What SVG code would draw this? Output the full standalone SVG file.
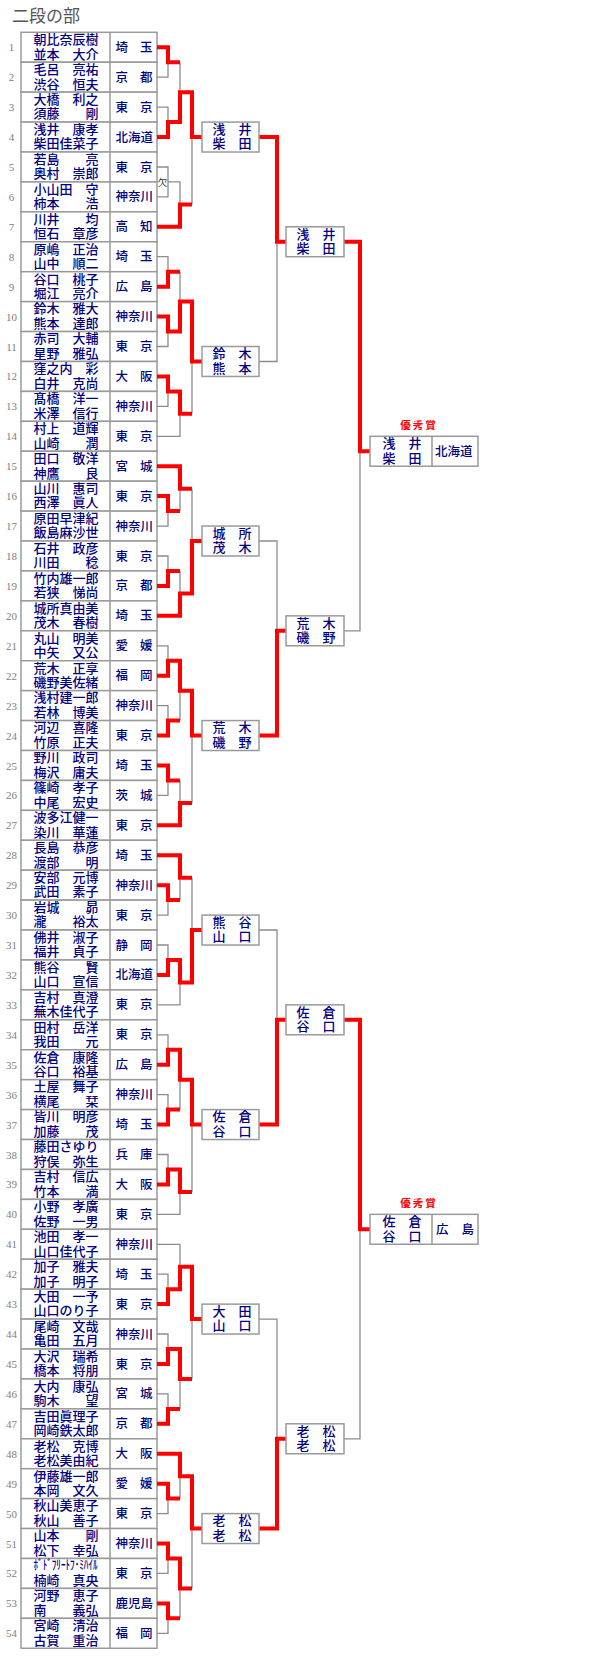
<svg xmlns="http://www.w3.org/2000/svg" width="600" height="1660" viewBox="0 0 600 1660">
<style>
text{font-family:"Noto Sans CJK JP","Noto Sans CJK SC",sans-serif}
.c{fill:#fff;stroke:#9a9a9a;stroke-width:1.5}
.d{stroke:#9a9a9a;stroke-width:1.5}
.no{font-family:"Liberation Serif",serif;font-size:11px;fill:#808080;text-anchor:middle}
.nm{font-size:13px;fill:#000080;font-weight:500}
.pf{font-size:12.5px;fill:#000080;font-weight:500}
.pe{text-anchor:end}
.mid{text-anchor:middle}
.g{fill:none;stroke:#8c8c8c;stroke-width:1.3}
.r{fill:none;stroke:#ff0000;stroke-width:4}
.aw{font-size:10.5px;fill:#ff0000;font-weight:bold;letter-spacing:2px;text-anchor:middle}
.ab{font-size:9.5px;fill:#333;text-anchor:middle}
</style>
<rect width="600" height="1660" fill="#fff"/>
<text x="12" y="21.5" font-size="17" fill="#555">二段の部</text>

<g id="entries">
<g id="e1" transform="translate(0,32.3)"><rect class="c" x="21" width="136" height="29.93"/><line class="d" x1="110" y1="0" x2="110" y2="29.93"/><text class="no" x="11.5" y="19">1</text><text class="nm" x="33.5" y="11.8">朝比奈辰樹</text><text class="nm" x="33.5" y="26.3">並本　大介</text><text class="pf" x="115.5" y="19.5">埼</text><text class="pf pe" x="152.5" y="19.5">玉</text></g>
<g id="e2" transform="translate(0,62.23)"><rect class="c" x="21" width="136" height="29.93"/><line class="d" x1="110" y1="0" x2="110" y2="29.93"/><text class="no" x="11.5" y="19">2</text><text class="nm" x="33.5" y="11.8">毛呂　亮祐</text><text class="nm" x="33.5" y="26.3">渋谷　恒夫</text><text class="pf" x="115.5" y="19.5">京</text><text class="pf pe" x="152.5" y="19.5">都</text></g>
<g id="e3" transform="translate(0,92.15)"><rect class="c" x="21" width="136" height="29.93"/><line class="d" x1="110" y1="0" x2="110" y2="29.93"/><text class="no" x="11.5" y="19">3</text><text class="nm" x="33.5" y="11.8">大橋　利之</text><text class="nm" x="33.5" y="26.3">須藤　　剛</text><text class="pf" x="115.5" y="19.5">東</text><text class="pf pe" x="152.5" y="19.5">京</text></g>
<g id="e4" transform="translate(0,122.08)"><rect class="c" x="21" width="136" height="29.93"/><line class="d" x1="110" y1="0" x2="110" y2="29.93"/><text class="no" x="11.5" y="19">4</text><text class="nm" x="33.5" y="11.8">浅井　康孝</text><text class="nm" x="33.5" y="26.3">柴田佳菜子</text><text class="pf" x="115.5" y="19.5">北海道</text></g>
<g id="e5" transform="translate(0,152)"><rect class="c" x="21" width="136" height="29.93"/><line class="d" x1="110" y1="0" x2="110" y2="29.93"/><text class="no" x="11.5" y="19">5</text><text class="nm" x="33.5" y="11.8">若島　　亮</text><text class="nm" x="33.5" y="26.3">奥村　崇郎</text><text class="pf" x="115.5" y="19.5">東</text><text class="pf pe" x="152.5" y="19.5">京</text></g>
<g id="e6" transform="translate(0,181.93)"><rect class="c" x="21" width="136" height="29.93"/><line class="d" x1="110" y1="0" x2="110" y2="29.93"/><text class="no" x="11.5" y="19">6</text><text class="nm" x="33.5" y="11.8">小山田　守</text><text class="nm" x="33.5" y="26.3">柿本　　浩</text><text class="pf" x="115.5" y="19.5">神奈川</text></g>
<g id="e7" transform="translate(0,211.85)"><rect class="c" x="21" width="136" height="29.93"/><line class="d" x1="110" y1="0" x2="110" y2="29.93"/><text class="no" x="11.5" y="19">7</text><text class="nm" x="33.5" y="11.8">川井　　均</text><text class="nm" x="33.5" y="26.3">恒石　章彦</text><text class="pf" x="115.5" y="19.5">高</text><text class="pf pe" x="152.5" y="19.5">知</text></g>
<g id="e8" transform="translate(0,241.78)"><rect class="c" x="21" width="136" height="29.93"/><line class="d" x1="110" y1="0" x2="110" y2="29.93"/><text class="no" x="11.5" y="19">8</text><text class="nm" x="33.5" y="11.8">原嶋　正治</text><text class="nm" x="33.5" y="26.3">山中　順二</text><text class="pf" x="115.5" y="19.5">埼</text><text class="pf pe" x="152.5" y="19.5">玉</text></g>
<g id="e9" transform="translate(0,271.7)"><rect class="c" x="21" width="136" height="29.93"/><line class="d" x1="110" y1="0" x2="110" y2="29.93"/><text class="no" x="11.5" y="19">9</text><text class="nm" x="33.5" y="11.8">谷口　桃子</text><text class="nm" x="33.5" y="26.3">堀江　亮介</text><text class="pf" x="115.5" y="19.5">広</text><text class="pf pe" x="152.5" y="19.5">島</text></g>
<g id="e10" transform="translate(0,301.63)"><rect class="c" x="21" width="136" height="29.93"/><line class="d" x1="110" y1="0" x2="110" y2="29.93"/><text class="no" x="11.5" y="19">10</text><text class="nm" x="33.5" y="11.8">鈴木　雅大</text><text class="nm" x="33.5" y="26.3">熊本　達郎</text><text class="pf" x="115.5" y="19.5">神奈川</text></g>
<g id="e11" transform="translate(0,331.55)"><rect class="c" x="21" width="136" height="29.93"/><line class="d" x1="110" y1="0" x2="110" y2="29.93"/><text class="no" x="11.5" y="19">11</text><text class="nm" x="33.5" y="11.8">赤司　大輔</text><text class="nm" x="33.5" y="26.3">星野　雅弘</text><text class="pf" x="115.5" y="19.5">東</text><text class="pf pe" x="152.5" y="19.5">京</text></g>
<g id="e12" transform="translate(0,361.48)"><rect class="c" x="21" width="136" height="29.93"/><line class="d" x1="110" y1="0" x2="110" y2="29.93"/><text class="no" x="11.5" y="19">12</text><text class="nm" x="33.5" y="11.8">窪之内　彩</text><text class="nm" x="33.5" y="26.3">白井　克尚</text><text class="pf" x="115.5" y="19.5">大</text><text class="pf pe" x="152.5" y="19.5">阪</text></g>
<g id="e13" transform="translate(0,391.4)"><rect class="c" x="21" width="136" height="29.93"/><line class="d" x1="110" y1="0" x2="110" y2="29.93"/><text class="no" x="11.5" y="19">13</text><text class="nm" x="33.5" y="11.8">髙橋　洋一</text><text class="nm" x="33.5" y="26.3">米澤　信行</text><text class="pf" x="115.5" y="19.5">神奈川</text></g>
<g id="e14" transform="translate(0,421.33)"><rect class="c" x="21" width="136" height="29.93"/><line class="d" x1="110" y1="0" x2="110" y2="29.93"/><text class="no" x="11.5" y="19">14</text><text class="nm" x="33.5" y="11.8">村上　道輝</text><text class="nm" x="33.5" y="26.3">山崎　　潤</text><text class="pf" x="115.5" y="19.5">東</text><text class="pf pe" x="152.5" y="19.5">京</text></g>
<g id="e15" transform="translate(0,451.25)"><rect class="c" x="21" width="136" height="29.93"/><line class="d" x1="110" y1="0" x2="110" y2="29.93"/><text class="no" x="11.5" y="19">15</text><text class="nm" x="33.5" y="11.8">田口　敬洋</text><text class="nm" x="33.5" y="26.3">神鷹　　良</text><text class="pf" x="115.5" y="19.5">宮</text><text class="pf pe" x="152.5" y="19.5">城</text></g>
<g id="e16" transform="translate(0,481.18)"><rect class="c" x="21" width="136" height="29.93"/><line class="d" x1="110" y1="0" x2="110" y2="29.93"/><text class="no" x="11.5" y="19">16</text><text class="nm" x="33.5" y="11.8">山川　惠司</text><text class="nm" x="33.5" y="26.3">西澤　眞人</text><text class="pf" x="115.5" y="19.5">東</text><text class="pf pe" x="152.5" y="19.5">京</text></g>
<g id="e17" transform="translate(0,511.1)"><rect class="c" x="21" width="136" height="29.93"/><line class="d" x1="110" y1="0" x2="110" y2="29.93"/><text class="no" x="11.5" y="19">17</text><text class="nm" x="33.5" y="11.8">原田早津紀</text><text class="nm" x="33.5" y="26.3">飯島麻沙世</text><text class="pf" x="115.5" y="19.5">神奈川</text></g>
<g id="e18" transform="translate(0,541.03)"><rect class="c" x="21" width="136" height="29.93"/><line class="d" x1="110" y1="0" x2="110" y2="29.93"/><text class="no" x="11.5" y="19">18</text><text class="nm" x="33.5" y="11.8">石井　政彦</text><text class="nm" x="33.5" y="26.3">川田　　稔</text><text class="pf" x="115.5" y="19.5">東</text><text class="pf pe" x="152.5" y="19.5">京</text></g>
<g id="e19" transform="translate(0,570.95)"><rect class="c" x="21" width="136" height="29.93"/><line class="d" x1="110" y1="0" x2="110" y2="29.93"/><text class="no" x="11.5" y="19">19</text><text class="nm" x="33.5" y="11.8">竹内雄一郎</text><text class="nm" x="33.5" y="26.3">若狭　悌尚</text><text class="pf" x="115.5" y="19.5">京</text><text class="pf pe" x="152.5" y="19.5">都</text></g>
<g id="e20" transform="translate(0,600.88)"><rect class="c" x="21" width="136" height="29.93"/><line class="d" x1="110" y1="0" x2="110" y2="29.93"/><text class="no" x="11.5" y="19">20</text><text class="nm" x="33.5" y="11.8">城所真由美</text><text class="nm" x="33.5" y="26.3">茂木　春樹</text><text class="pf" x="115.5" y="19.5">埼</text><text class="pf pe" x="152.5" y="19.5">玉</text></g>
<g id="e21" transform="translate(0,630.8)"><rect class="c" x="21" width="136" height="29.93"/><line class="d" x1="110" y1="0" x2="110" y2="29.93"/><text class="no" x="11.5" y="19">21</text><text class="nm" x="33.5" y="11.8">丸山　明美</text><text class="nm" x="33.5" y="26.3">中矢　又公</text><text class="pf" x="115.5" y="19.5">愛</text><text class="pf pe" x="152.5" y="19.5">媛</text></g>
<g id="e22" transform="translate(0,660.73)"><rect class="c" x="21" width="136" height="29.93"/><line class="d" x1="110" y1="0" x2="110" y2="29.93"/><text class="no" x="11.5" y="19">22</text><text class="nm" x="33.5" y="11.8">荒木　正享</text><text class="nm" x="33.5" y="26.3">磯野美佐緒</text><text class="pf" x="115.5" y="19.5">福</text><text class="pf pe" x="152.5" y="19.5">岡</text></g>
<g id="e23" transform="translate(0,690.65)"><rect class="c" x="21" width="136" height="29.93"/><line class="d" x1="110" y1="0" x2="110" y2="29.93"/><text class="no" x="11.5" y="19">23</text><text class="nm" x="33.5" y="11.8">浅村建一郎</text><text class="nm" x="33.5" y="26.3">若林　博美</text><text class="pf" x="115.5" y="19.5">神奈川</text></g>
<g id="e24" transform="translate(0,720.58)"><rect class="c" x="21" width="136" height="29.93"/><line class="d" x1="110" y1="0" x2="110" y2="29.93"/><text class="no" x="11.5" y="19">24</text><text class="nm" x="33.5" y="11.8">河辺　喜隆</text><text class="nm" x="33.5" y="26.3">竹原　正夫</text><text class="pf" x="115.5" y="19.5">東</text><text class="pf pe" x="152.5" y="19.5">京</text></g>
<g id="e25" transform="translate(0,750.5)"><rect class="c" x="21" width="136" height="29.93"/><line class="d" x1="110" y1="0" x2="110" y2="29.93"/><text class="no" x="11.5" y="19">25</text><text class="nm" x="33.5" y="11.8">野川　政司</text><text class="nm" x="33.5" y="26.3">梅沢　庸夫</text><text class="pf" x="115.5" y="19.5">埼</text><text class="pf pe" x="152.5" y="19.5">玉</text></g>
<g id="e26" transform="translate(0,780.43)"><rect class="c" x="21" width="136" height="29.93"/><line class="d" x1="110" y1="0" x2="110" y2="29.93"/><text class="no" x="11.5" y="19">26</text><text class="nm" x="33.5" y="11.8">篠崎　孝子</text><text class="nm" x="33.5" y="26.3">中尾　宏史</text><text class="pf" x="115.5" y="19.5">茨</text><text class="pf pe" x="152.5" y="19.5">城</text></g>
<g id="e27" transform="translate(0,810.35)"><rect class="c" x="21" width="136" height="29.93"/><line class="d" x1="110" y1="0" x2="110" y2="29.93"/><text class="no" x="11.5" y="19">27</text><text class="nm" x="33.5" y="11.8">波多江健一</text><text class="nm" x="33.5" y="26.3">染川　華蓮</text><text class="pf" x="115.5" y="19.5">東</text><text class="pf pe" x="152.5" y="19.5">京</text></g>
<g id="e28" transform="translate(0,840.28)"><rect class="c" x="21" width="136" height="29.93"/><line class="d" x1="110" y1="0" x2="110" y2="29.93"/><text class="no" x="11.5" y="19">28</text><text class="nm" x="33.5" y="11.8">長島　恭彦</text><text class="nm" x="33.5" y="26.3">渡部　　明</text><text class="pf" x="115.5" y="19.5">埼</text><text class="pf pe" x="152.5" y="19.5">玉</text></g>
<g id="e29" transform="translate(0,870.2)"><rect class="c" x="21" width="136" height="29.93"/><line class="d" x1="110" y1="0" x2="110" y2="29.93"/><text class="no" x="11.5" y="19">29</text><text class="nm" x="33.5" y="11.8">安部　元博</text><text class="nm" x="33.5" y="26.3">武田　素子</text><text class="pf" x="115.5" y="19.5">神奈川</text></g>
<g id="e30" transform="translate(0,900.13)"><rect class="c" x="21" width="136" height="29.93"/><line class="d" x1="110" y1="0" x2="110" y2="29.93"/><text class="no" x="11.5" y="19">30</text><text class="nm" x="33.5" y="11.8">岩城　　昴</text><text class="nm" x="33.5" y="26.3">瀧　　裕太</text><text class="pf" x="115.5" y="19.5">東</text><text class="pf pe" x="152.5" y="19.5">京</text></g>
<g id="e31" transform="translate(0,930.05)"><rect class="c" x="21" width="136" height="29.93"/><line class="d" x1="110" y1="0" x2="110" y2="29.93"/><text class="no" x="11.5" y="19">31</text><text class="nm" x="33.5" y="11.8">佛井　淑子</text><text class="nm" x="33.5" y="26.3">福井　貞子</text><text class="pf" x="115.5" y="19.5">静</text><text class="pf pe" x="152.5" y="19.5">岡</text></g>
<g id="e32" transform="translate(0,959.98)"><rect class="c" x="21" width="136" height="29.93"/><line class="d" x1="110" y1="0" x2="110" y2="29.93"/><text class="no" x="11.5" y="19">32</text><text class="nm" x="33.5" y="11.8">熊谷　　賢</text><text class="nm" x="33.5" y="26.3">山口　宣信</text><text class="pf" x="115.5" y="19.5">北海道</text></g>
<g id="e33" transform="translate(0,989.9)"><rect class="c" x="21" width="136" height="29.93"/><line class="d" x1="110" y1="0" x2="110" y2="29.93"/><text class="no" x="11.5" y="19">33</text><text class="nm" x="33.5" y="11.8">吉村　真澄</text><text class="nm" x="33.5" y="26.3">蕪木佳代子</text><text class="pf" x="115.5" y="19.5">東</text><text class="pf pe" x="152.5" y="19.5">京</text></g>
<g id="e34" transform="translate(0,1019.83)"><rect class="c" x="21" width="136" height="29.93"/><line class="d" x1="110" y1="0" x2="110" y2="29.93"/><text class="no" x="11.5" y="19">34</text><text class="nm" x="33.5" y="11.8">田村　岳洋</text><text class="nm" x="33.5" y="26.3">我田　　元</text><text class="pf" x="115.5" y="19.5">東</text><text class="pf pe" x="152.5" y="19.5">京</text></g>
<g id="e35" transform="translate(0,1049.75)"><rect class="c" x="21" width="136" height="29.93"/><line class="d" x1="110" y1="0" x2="110" y2="29.93"/><text class="no" x="11.5" y="19">35</text><text class="nm" x="33.5" y="11.8">佐倉　康隆</text><text class="nm" x="33.5" y="26.3">谷口　裕基</text><text class="pf" x="115.5" y="19.5">広</text><text class="pf pe" x="152.5" y="19.5">島</text></g>
<g id="e36" transform="translate(0,1079.68)"><rect class="c" x="21" width="136" height="29.93"/><line class="d" x1="110" y1="0" x2="110" y2="29.93"/><text class="no" x="11.5" y="19">36</text><text class="nm" x="33.5" y="11.8">土屋　舞子</text><text class="nm" x="33.5" y="26.3">横尾　　栞</text><text class="pf" x="115.5" y="19.5">神奈川</text></g>
<g id="e37" transform="translate(0,1109.6)"><rect class="c" x="21" width="136" height="29.93"/><line class="d" x1="110" y1="0" x2="110" y2="29.93"/><text class="no" x="11.5" y="19">37</text><text class="nm" x="33.5" y="11.8">皆川　明彦</text><text class="nm" x="33.5" y="26.3">加藤　　茂</text><text class="pf" x="115.5" y="19.5">埼</text><text class="pf pe" x="152.5" y="19.5">玉</text></g>
<g id="e38" transform="translate(0,1139.53)"><rect class="c" x="21" width="136" height="29.93"/><line class="d" x1="110" y1="0" x2="110" y2="29.93"/><text class="no" x="11.5" y="19">38</text><text class="nm" x="33.5" y="11.8">藤田さゆり</text><text class="nm" x="33.5" y="26.3">狩俣　弥生</text><text class="pf" x="115.5" y="19.5">兵</text><text class="pf pe" x="152.5" y="19.5">庫</text></g>
<g id="e39" transform="translate(0,1169.45)"><rect class="c" x="21" width="136" height="29.93"/><line class="d" x1="110" y1="0" x2="110" y2="29.93"/><text class="no" x="11.5" y="19">39</text><text class="nm" x="33.5" y="11.8">吉村　信広</text><text class="nm" x="33.5" y="26.3">竹本　　満</text><text class="pf" x="115.5" y="19.5">大</text><text class="pf pe" x="152.5" y="19.5">阪</text></g>
<g id="e40" transform="translate(0,1199.38)"><rect class="c" x="21" width="136" height="29.93"/><line class="d" x1="110" y1="0" x2="110" y2="29.93"/><text class="no" x="11.5" y="19">40</text><text class="nm" x="33.5" y="11.8">小野　孝廣</text><text class="nm" x="33.5" y="26.3">佐野　一男</text><text class="pf" x="115.5" y="19.5">東</text><text class="pf pe" x="152.5" y="19.5">京</text></g>
<g id="e41" transform="translate(0,1229.3)"><rect class="c" x="21" width="136" height="29.93"/><line class="d" x1="110" y1="0" x2="110" y2="29.93"/><text class="no" x="11.5" y="19">41</text><text class="nm" x="33.5" y="11.8">池田　孝一</text><text class="nm" x="33.5" y="26.3">山口佳代子</text><text class="pf" x="115.5" y="19.5">神奈川</text></g>
<g id="e42" transform="translate(0,1259.23)"><rect class="c" x="21" width="136" height="29.93"/><line class="d" x1="110" y1="0" x2="110" y2="29.93"/><text class="no" x="11.5" y="19">42</text><text class="nm" x="33.5" y="11.8">加子　雅夫</text><text class="nm" x="33.5" y="26.3">加子　明子</text><text class="pf" x="115.5" y="19.5">埼</text><text class="pf pe" x="152.5" y="19.5">玉</text></g>
<g id="e43" transform="translate(0,1289.15)"><rect class="c" x="21" width="136" height="29.93"/><line class="d" x1="110" y1="0" x2="110" y2="29.93"/><text class="no" x="11.5" y="19">43</text><text class="nm" x="33.5" y="11.8">大田　一予</text><text class="nm" x="33.5" y="26.3">山口のり子</text><text class="pf" x="115.5" y="19.5">東</text><text class="pf pe" x="152.5" y="19.5">京</text></g>
<g id="e44" transform="translate(0,1319.08)"><rect class="c" x="21" width="136" height="29.93"/><line class="d" x1="110" y1="0" x2="110" y2="29.93"/><text class="no" x="11.5" y="19">44</text><text class="nm" x="33.5" y="11.8">尾崎　文哉</text><text class="nm" x="33.5" y="26.3">亀田　五月</text><text class="pf" x="115.5" y="19.5">神奈川</text></g>
<g id="e45" transform="translate(0,1349)"><rect class="c" x="21" width="136" height="29.93"/><line class="d" x1="110" y1="0" x2="110" y2="29.93"/><text class="no" x="11.5" y="19">45</text><text class="nm" x="33.5" y="11.8">大沢　瑞希</text><text class="nm" x="33.5" y="26.3">橋本　将朋</text><text class="pf" x="115.5" y="19.5">東</text><text class="pf pe" x="152.5" y="19.5">京</text></g>
<g id="e46" transform="translate(0,1378.93)"><rect class="c" x="21" width="136" height="29.93"/><line class="d" x1="110" y1="0" x2="110" y2="29.93"/><text class="no" x="11.5" y="19">46</text><text class="nm" x="33.5" y="11.8">大内　康弘</text><text class="nm" x="33.5" y="26.3">駒木　　望</text><text class="pf" x="115.5" y="19.5">宮</text><text class="pf pe" x="152.5" y="19.5">城</text></g>
<g id="e47" transform="translate(0,1408.85)"><rect class="c" x="21" width="136" height="29.93"/><line class="d" x1="110" y1="0" x2="110" y2="29.93"/><text class="no" x="11.5" y="19">47</text><text class="nm" x="33.5" y="11.8">吉田眞理子</text><text class="nm" x="33.5" y="26.3">岡崎鉄太郎</text><text class="pf" x="115.5" y="19.5">京</text><text class="pf pe" x="152.5" y="19.5">都</text></g>
<g id="e48" transform="translate(0,1438.78)"><rect class="c" x="21" width="136" height="29.93"/><line class="d" x1="110" y1="0" x2="110" y2="29.93"/><text class="no" x="11.5" y="19">48</text><text class="nm" x="33.5" y="11.8">老松　克博</text><text class="nm" x="33.5" y="26.3">老松美由紀</text><text class="pf" x="115.5" y="19.5">大</text><text class="pf pe" x="152.5" y="19.5">阪</text></g>
<g id="e49" transform="translate(0,1468.7)"><rect class="c" x="21" width="136" height="29.93"/><line class="d" x1="110" y1="0" x2="110" y2="29.93"/><text class="no" x="11.5" y="19">49</text><text class="nm" x="33.5" y="11.8">伊藤雄一郎</text><text class="nm" x="33.5" y="26.3">本岡　文久</text><text class="pf" x="115.5" y="19.5">愛</text><text class="pf pe" x="152.5" y="19.5">媛</text></g>
<g id="e50" transform="translate(0,1498.63)"><rect class="c" x="21" width="136" height="29.93"/><line class="d" x1="110" y1="0" x2="110" y2="29.93"/><text class="no" x="11.5" y="19">50</text><text class="nm" x="33.5" y="11.8">秋山美恵子</text><text class="nm" x="33.5" y="26.3">秋山　善子</text><text class="pf" x="115.5" y="19.5">東</text><text class="pf pe" x="152.5" y="19.5">京</text></g>
<g id="e51" transform="translate(0,1528.55)"><rect class="c" x="21" width="136" height="29.93"/><line class="d" x1="110" y1="0" x2="110" y2="29.93"/><text class="no" x="11.5" y="19">51</text><text class="nm" x="33.5" y="11.8">山本　　剛</text><text class="nm" x="33.5" y="26.3">松下　幸弘</text><text class="pf" x="115.5" y="19.5">神奈川</text></g>
<g id="e52" transform="translate(0,1558.48)"><rect class="c" x="21" width="136" height="29.93"/><line class="d" x1="110" y1="0" x2="110" y2="29.93"/><text class="no" x="11.5" y="19">52</text><text class="nm" x="33.5" y="10.5" font-size="9" textLength="64" lengthAdjust="spacingAndGlyphs">ﾎﾞﾄﾞﾌﾘｰﾄﾌ･ﾐﾊｲﾙ</text><text class="nm" x="33.5" y="26.3">楠崎　真央</text><text class="pf" x="115.5" y="19.5">東</text><text class="pf pe" x="152.5" y="19.5">京</text></g>
<g id="e53" transform="translate(0,1588.4)"><rect class="c" x="21" width="136" height="29.93"/><line class="d" x1="110" y1="0" x2="110" y2="29.93"/><text class="no" x="11.5" y="19">53</text><text class="nm" x="33.5" y="11.8">河野　恵子</text><text class="nm" x="33.5" y="26.3">南　　義弘</text><text class="pf" x="115.5" y="19.5">鹿児島</text></g>
<g id="e54" transform="translate(0,1618.33)"><rect class="c" x="21" width="136" height="29.93"/><line class="d" x1="110" y1="0" x2="110" y2="29.93"/><text class="no" x="11.5" y="19">54</text><text class="nm" x="33.5" y="11.8">宮崎　清治</text><text class="nm" x="33.5" y="26.3">古賀　重治</text><text class="pf" x="115.5" y="19.5">福</text><text class="pf pe" x="152.5" y="19.5">岡</text></g>
</g>

<g id="connectors">
<g class="gray">
<path class="g" d="M157,77.2H168V62.2 M157,107.1H168V122.1 M180,62.2V92.2 M157,167H168V196.9H157 M168,181.9H180V204.4 M192,204.4V137"/>
<path class="g" d="M157,256.7H168V271.7 M157,346.5H168V331.6 M180,271.7V301.6 M157,406.4H168V391.4 M157,436.3H180V413.8 M192,413.8V361.5"/>
<path class="g" d="M157,526.1H168V511.1 M180,511.1V488.7 M157,556H168V571 M180,571V593.4 M192,488.7V541"/>
<path class="g" d="M157,645.8H168V660.7 M157,705.6H168V720.6 M180,720.6V690.7 M157,795.4H168V780.4 M180,780.4V802.9 M192,802.9V735.5"/>
<path class="g" d="M157,915.1H168V900.1 M180,900.1V877.7 M157,945H168V960 M157,1004.9H180V982.4 M192,877.7V930"/>
<path class="g" d="M157,1034.8H168V1049.8 M157,1094.6H168V1109.6 M180,1109.6V1079.7 M157,1154.5H168V1169.5 M157,1214.3H180V1191.9 M192,1191.9V1124.6"/>
<path class="g" d="M157,1244.3H180V1266.7 M157,1274.2H168V1289.2 M157,1334H168V1349 M157,1393.9H168V1408.9 M180,1408.9V1378.9 M192,1378.9V1319.1"/>
<path class="g" d="M157,1513.6H168V1498.6 M180,1498.6V1476.2 M157,1573.4H168V1558.5 M157,1633.3H168V1618.3 M180,1618.3V1588.4 M192,1588.4V1528.6"/>
<path class="g" d="M259,361.5H277V241.8 M259,541H277V630.8 M259,930H277V1019.8 M259,1319.1H277V1438.8 M344,630.8H360V451.3 M344,1438.8H360V1229.3"/>
</g>
<g class="red">
<path class="r" d="M157,47.3H168V62.2H180 M157,137H168V122.1H180V92.2H192V137H202 M157,226.8H180V204.4H192"/>
<path class="r" d="M157,286.7H168V271.7H180 M157,316.6H168V331.6H180V301.6H192V361.5H202 M157,376.4H168V391.4H180V413.8H192"/>
<path class="r" d="M157,466.2H180V488.7H192 M157,496.1H168V511.1H180 M157,585.9H168V571H180 M157,615.8H180V593.4H192V541H202"/>
<path class="r" d="M157,675.7H168V660.7H180V690.7H192V735.5H202 M157,735.5H168V720.6H180 M157,765.5H168V780.4H180 M157,825.3H180V802.9H192"/>
<path class="r" d="M157,855.2H180V877.7H192 M157,885.2H168V900.1H180 M157,974.9H168V960H180V982.4H192V930H202"/>
<path class="r" d="M157,1064.7H168V1049.8H180V1079.7H192V1124.6H202 M157,1124.6H168V1109.6H180 M157,1184.4H168V1169.5H180V1191.9H192"/>
<path class="r" d="M157,1304.1H168V1289.2H180V1266.7H192V1319.1H202 M157,1364H168V1349H180V1378.9H192 M157,1423.8H168V1408.9H180"/>
<path class="r" d="M157,1453.7H180V1476.2H192V1528.6H202 M157,1483.7H168V1498.6H180 M157,1543.5H168V1558.5H180V1588.4H192 M157,1603.4H168V1618.3H180"/>
<path class="r" d="M259,137H277V241.8H286 M259,735.5H277V630.8H286 M259,1124.6H277V1019.8H286 M259,1528.6H277V1438.8H286 M344,241.8H360V451.3H370 M344,1019.8H360V1229.3H370"/>
</g>
<text class="ab" x="162.5" y="186">欠</text>
</g>

<g id="round8">
<g id="q1" transform="translate(202,122.08)"><rect class="c" width="57" height="29.93"/><text class="nm mid" x="30" y="11.8">浅　井</text><text class="nm mid" x="30" y="26.3">柴　田</text></g>
<g id="q2" transform="translate(202,346.51)"><rect class="c" width="57" height="29.93"/><text class="nm mid" x="30" y="11.8">鈴　木</text><text class="nm mid" x="30" y="26.3">熊　本</text></g>
<g id="q3" transform="translate(202,526.06)"><rect class="c" width="57" height="29.93"/><text class="nm mid" x="30" y="11.8">城　所</text><text class="nm mid" x="30" y="26.3">茂　木</text></g>
<g id="q4" transform="translate(202,720.58)"><rect class="c" width="57" height="29.93"/><text class="nm mid" x="30" y="11.8">荒　木</text><text class="nm mid" x="30" y="26.3">磯　野</text></g>
<g id="q5" transform="translate(202,915.09)"><rect class="c" width="57" height="29.93"/><text class="nm mid" x="30" y="11.8">熊　谷</text><text class="nm mid" x="30" y="26.3">山　口</text></g>
<g id="q6" transform="translate(202,1109.6)"><rect class="c" width="57" height="29.93"/><text class="nm mid" x="30" y="11.8">佐　倉</text><text class="nm mid" x="30" y="26.3">谷　口</text></g>
<g id="q7" transform="translate(202,1304.11)"><rect class="c" width="57" height="29.93"/><text class="nm mid" x="30" y="11.8">大　田</text><text class="nm mid" x="30" y="26.3">山　口</text></g>
<g id="q8" transform="translate(202,1513.59)"><rect class="c" width="57" height="29.93"/><text class="nm mid" x="30" y="11.8">老　松</text><text class="nm mid" x="30" y="26.3">老　松</text></g>
</g>

<g id="round4">
<g id="s1" transform="translate(286,226.8)"><rect class="c" width="58" height="29.93"/><text class="nm mid" x="30" y="11.8">浅　井</text><text class="nm mid" x="30" y="26.3">柴　田</text></g>
<g id="s2" transform="translate(286,615.84)"><rect class="c" width="58" height="29.93"/><text class="nm mid" x="30" y="11.8">荒　木</text><text class="nm mid" x="30" y="26.3">磯　野</text></g>
<g id="s3" transform="translate(286,1004.86)"><rect class="c" width="58" height="29.93"/><text class="nm mid" x="30" y="11.8">佐　倉</text><text class="nm mid" x="30" y="26.3">谷　口</text></g>
<g id="s4" transform="translate(286,1423.81)"><rect class="c" width="58" height="29.93"/><text class="nm mid" x="30" y="11.8">老　松</text><text class="nm mid" x="30" y="26.3">老　松</text></g>
</g>

<g id="final1">
<text class="aw" x="419" y="429">優秀賞</text>
<g transform="translate(370,436.29)"><rect class="c" width="108" height="29.93"/><line class="d" x1="62" y1="0" x2="62" y2="29.93"/><text class="nm mid" x="32" y="11.8">浅　井</text><text class="nm mid" x="32" y="26.3">柴　田</text><text class="pf" x="65" y="19.5">北海道</text></g>
</g>
<g id="final2">
<text class="aw" x="419" y="1207">優秀賞</text>
<g transform="translate(370,1214.34)"><rect class="c" width="108" height="29.93"/><line class="d" x1="62" y1="0" x2="62" y2="29.93"/><text class="nm mid" x="32" y="11.8">佐　倉</text><text class="nm mid" x="32" y="26.3">谷　口</text><text class="pf" x="66" y="19.5">広</text><text class="pf pe" x="104" y="19.5">島</text></g>
</g>
</svg>
